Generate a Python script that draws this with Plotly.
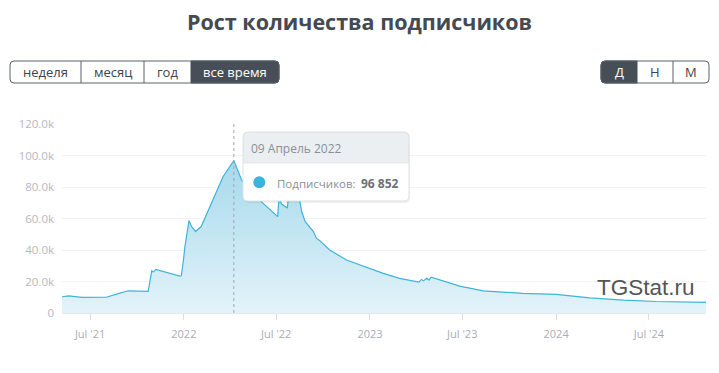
import plotly.graph_objects as go

# ---- data ----
dates = [
    "2021-05-07", "2021-05-20", "2021-06-15", "2021-08-02", "2021-08-22", "2021-09-14",
    "2021-10-23", "2021-10-30", "2021-11-02", "2021-11-07", "2021-12-24", "2021-12-27",
    "2021-12-31", "2022-01-03", "2022-01-11", "2022-01-16", "2022-01-24", "2022-02-04",
    "2022-02-27", "2022-03-19", "2022-04-07", "2022-04-09", "2022-04-24", "2022-05-10",
    "2022-06-05", "2022-07-04", "2022-07-07", "2022-07-11", "2022-07-23", "2022-07-26",
    "2022-08-03", "2022-08-16", "2022-08-20", "2022-08-27", "2022-09-12", "2022-09-18",
    "2022-09-25", "2022-10-14", "2022-11-16", "2022-12-25", "2023-01-27", "2023-02-28",
    "2023-04-07", "2023-04-12", "2023-04-16", "2023-04-22", "2023-04-27", "2023-05-01",
    "2023-05-24", "2023-06-26", "2023-08-11", "2023-10-28", "2024-01-01", "2024-03-07",
    "2024-05-12", "2024-07-16", "2024-10-21",
]
subscribers = [
    10300, 10900, 9900, 10000, 12000, 14100,
    13700, 26800, 26000, 27700, 23400, 23600,
    33000, 42000, 58700, 55000, 51700, 54900,
    71900, 86700, 95800, 96852, 84600, 78200,
    69800, 61200, 75000, 69300, 66600, 78200,
    76100, 71900, 64400, 58000, 51700, 47500,
    45800, 40000, 33600, 29000, 25200, 22000,
    19600, 21300, 20400, 22000, 20900, 22800,
    20300, 17100, 14100, 12400, 11800, 9600,
    8200, 7300, 6700,
]
tick_vals = ["2021-07-01", "2022-01-01", "2022-07-01", "2023-01-01",
             "2023-07-01", "2024-01-01", "2024-07-01"]
tick_text = ["Jul '21", "2022", "Jul '22", "2023", "Jul '23", "2024", "Jul '24"]
y_ticks = [0, 20000, 40000, 60000, 80000, 100000, 120000]
y_text = ["0", "20.0k", "40.0k", "60.0k", "80.0k", "100.0k", "120.0k"]
range_buttons = ["неделя", "месяц", "год", "все время"]
period_buttons = ["Д", "Н", "М"]
tooltip_date = "09 Апрель 2022"
tooltip_label = "Подписчиков:"
tooltip_value = "96 852"

W, H = 719, 373
ML, MR, MT, MB = 62, 13, 124, 60
PW, PH = W - ML - MR, H - MT - MB


def px(x):
    return (x - ML) / PW


def py(y):
    return (H - MB - y) / PH


def rrect(x0, y0, x1, y1, r, corners="tl tr br bl"):
    """rounded rect path in paper coords from pixel coords"""
    c = corners.split()
    rx, ry = r / PW, r / PH
    X0, X1 = px(x0), px(x1)
    Yt, Yb = py(y0), py(y1)
    p = []
    if "tl" in c:
        p.append(f"M{X0},{Yt - ry} Q{X0},{Yt} {X0 + rx},{Yt}")
    else:
        p.append(f"M{X0},{Yt}")
    if "tr" in c:
        p.append(f"L{X1 - rx},{Yt} Q{X1},{Yt} {X1},{Yt - ry}")
    else:
        p.append(f"L{X1},{Yt}")
    if "br" in c:
        p.append(f"L{X1},{Yb + ry} Q{X1},{Yb} {X1 - rx},{Yb}")
    else:
        p.append(f"L{X1},{Yb}")
    if "bl" in c:
        p.append(f"L{X0 + rx},{Yb} Q{X0},{Yb} {X0},{Yb + ry}")
    else:
        p.append(f"L{X0},{Yb}")
    p.append("Z")
    return " ".join(p)


FONT = "Open Sans"
DARK = "#474e57"
BORDER = "#5b6169"


def label(x, y, text, size, color, xanchor="center", family=None):
    return dict(x=px(x), y=py(y), xref="paper", yref="paper", xanchor=xanchor,
                yanchor="middle", text=text, showarrow=False,
                font=dict(family=family or FONT, size=size, color=color))


fig = go.Figure()
fig.add_trace(go.Scatter(
    x=dates, y=subscribers, mode="lines",
    line=dict(color="#3fb3d8", width=1.2),
    fill="tozeroy",
    fillgradient=dict(type="vertical", start=0, stop=97000,
                      colorscale=[[0, "#e3f3fa"], [1, "#a6d9ec"]]),
    hoverinfo="skip",
))

shapes = []
annotations = []

# left button group
lb_edges = [10, 81, 144, 191, 279]
top, bot = 61, 83
for i, lab in enumerate(range_buttons):
    x0, x1 = lb_edges[i], lb_edges[i + 1]
    active = i == len(range_buttons) - 1
    if active:
        shapes.append(dict(type="path", xref="paper", yref="paper",
                           path=rrect(x0, top, x1, bot, 4, "tr br"),
                           fillcolor=DARK, line=dict(color=DARK, width=1), layer="below"))
    annotations.append(label((x0 + x1) / 2, (top + bot) / 2, lab, 13,
                             "#ffffff" if active else "#3d434b"))
shapes.append(dict(type="path", xref="paper", yref="paper",
                   path=rrect(lb_edges[0], top, lb_edges[-1], bot, 4),
                   fillcolor="rgba(0,0,0,0)", line=dict(color=BORDER, width=1), layer="below"))
for e in lb_edges[1:-2]:
    shapes.append(dict(type="line", xref="paper", yref="paper", x0=px(e), x1=px(e),
                       y0=py(top), y1=py(bot), line=dict(color=BORDER, width=1), layer="below"))

# right button group
rb_edges = [601, 637, 673, 709]
for i, lab in enumerate(period_buttons):
    x0, x1 = rb_edges[i], rb_edges[i + 1]
    active = i == 0
    if active:
        shapes.append(dict(type="path", xref="paper", yref="paper",
                           path=rrect(x0, top, x1, bot, 4, "tl bl"),
                           fillcolor=DARK, line=dict(color=DARK, width=1), layer="below"))
    annotations.append(label((x0 + x1) / 2, (top + bot) / 2, lab, 13,
                             "#ffffff" if active else "#3d434b"))
shapes.append(dict(type="path", xref="paper", yref="paper",
                   path=rrect(rb_edges[0], top, rb_edges[-1], bot, 4),
                   fillcolor="rgba(0,0,0,0)", line=dict(color=BORDER, width=1), layer="below"))
for e in rb_edges[2:-1]:
    shapes.append(dict(type="line", xref="paper", yref="paper", x0=px(e), x1=px(e),
                       y0=py(top), y1=py(bot), line=dict(color=BORDER, width=1), layer="below"))

# hover crosshair at peak
shapes.append(dict(type="line", xref="x", yref="paper", x0="2022-04-09", x1="2022-04-09",
                   y0=0, y1=1, line=dict(color="#a0a6ad", width=1, dash="3px,3px"), layer="above"))

# tooltip
tx0, ty0, tx1, ty1, thead = 243, 132, 409, 201, 163
shapes.append(dict(type="path", xref="paper", yref="paper",
                   path=rrect(tx0 + 1, ty0 + 2, tx1 + 1, ty1 + 2, 5),
                   fillcolor="rgba(0,0,0,0.06)", line=dict(width=0), layer="above"))
shapes.append(dict(type="path", xref="paper", yref="paper",
                   path=rrect(tx0, ty0, tx1, ty1, 5),
                   fillcolor="#ffffff", line=dict(color="#dde1e4", width=1), layer="above"))
shapes.append(dict(type="path", xref="paper", yref="paper",
                   path=rrect(tx0 + 0.5, ty0 + 0.5, tx1 - 0.5, thead, 5, "tl tr"),
                   fillcolor="#eceff1", line=dict(color="#e2e5e8", width=1), layer="above"))
shapes.append(dict(type="circle", xref="paper", yref="paper",
                   x0=px(253.3), x1=px(265.3), y0=py(176.3), y1=py(188.3),
                   fillcolor="#3cb3d9", line=dict(width=0), layer="above"))
annotations.append(label(249, 148, tooltip_date, 12, "#8a9098", "left"))
annotations.append(label(275, 183, tooltip_label, 11.5, "#8a9098", "left"))
annotations.append(label(359, 183, "<b>" + tooltip_value + "</b>", 12, "#6b7079", "left"))

# watermark
annotations.append(label(646, 287, "TGStat.ru", 22.5, "#555555", "center", "Liberation Sans"))

fig.update_layout(
    width=W, height=H,
    margin=dict(l=ML, r=MR, t=MT, b=MB),
    paper_bgcolor="#ffffff", plot_bgcolor="#ffffff",
    showlegend=False, hovermode=False,
    title=dict(text="<b>Рост количества подписчиков</b>", x=0.5, xref="container",
               y=1 - 22 / H, yref="container", xanchor="center", yanchor="middle",
               font=dict(family=FONT, size=21.5, color="#434a52")),
    xaxis=dict(range=[dates[0], dates[-1]], tickvals=tick_vals, ticktext=tick_text,
               showgrid=False, zeroline=False, showline=True, linecolor="#e6e8ea",
               ticks="outside", ticklen=6, tickcolor="#dcdfe2", ticklabelstandoff=5,
               tickfont=dict(family=FONT, size=11, color="#a7adb7")),
    yaxis=dict(range=[0, 120000], tickvals=y_ticks, ticktext=y_text,
               showgrid=True, gridcolor="#f2f3f4", zeroline=False, showline=False,
               ticks="", ticklabelstandoff=7,
               tickfont=dict(family=FONT, size=11.5, color="#b3b8bf")),
    shapes=shapes, annotations=annotations,
)

fig.write_html("out.html", config={"displayModeBar": False},
               post_script="document.body.style.margin='0';")
